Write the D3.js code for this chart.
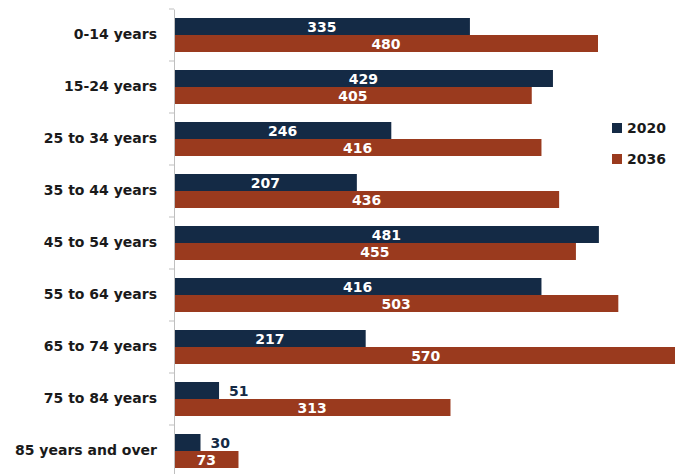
<!DOCTYPE html>
<html>
<head>
<meta charset="utf-8">
<script src="https://cdn.jsdelivr.net/npm/d3@7"></script>
<style>
  body { margin: 0; background: #fff; }
  svg text { font-family: "DejaVu Sans", sans-serif; font-weight: bold; }
</style>
</head>
<body>
<svg width="675" height="474"></svg>
<script>
var categories = ["0-14 years", "15-24 years", "25 to 34 years", "35 to 44 years",
  "45 to 54 years", "55 to 64 years", "65 to 74 years", "75 to 84 years", "85 years and over"];
var seriesNames = ["2020", "2036"];
var values2020 = [335, 429, 246, 207, 481, 416, 217, 51, 30];
var values2036 = [480, 405, 416, 436, 455, 503, 570, 313, 73];
var colors = ["#142a45", "#9a3a1e"];

var svg = d3.select("svg");

var x = d3.scaleLinear().domain([0, 600]).range([174, 704]);
var y = d3.scaleBand().domain(categories).range([9, 9 + 52 * categories.length]);
var y1 = d3.scaleBand().domain(seriesNames).range([9, 43]);

var rows = categories.map(function(c, i) {
  return {cat: c, vals: [values2020[i], values2036[i]]};
});

// bars
var g = svg.selectAll(".row").data(rows).enter().append("g")
    .attr("transform", function(d) { return "translate(0," + y(d.cat) + ")"; });

g.selectAll("rect")
    .data(function(d) { return d.vals.map(function(v, j) { return {v: v, s: seriesNames[j], j: j}; }); })
    .enter().append("rect")
    .attr("x", x(0))
    .attr("y", function(d) { return y1(d.s); })
    .attr("width", function(d) { return x(d.v) - x(0); })
    .attr("height", y1.bandwidth())
    .attr("fill", function(d) { return colors[d.j]; });

// value labels: inside when bar is wide enough, else just outside
g.selectAll(".val")
    .data(function(d) { return d.vals.map(function(v, j) { return {v: v, s: seriesNames[j], j: j}; }); })
    .enter().append("text")
    .attr("class", "val")
    .attr("font-size", 14)
    .attr("y", function(d) { return y1(d.s) + y1.bandwidth() / 2 + 5; })
    .attr("x", function(d) {
      return d.v < 60 ? x(d.v) + 10 : (x(0) + x(d.v)) / 2;
    })
    .attr("text-anchor", function(d) { return d.v < 60 ? "start" : "middle"; })
    .attr("fill", function(d) { return d.v < 60 ? "#142a45" : "#fff"; })
    .text(function(d) { return d.v; });

// axis
var axis = svg.append("g")
    .attr("transform", "translate(" + x(0) + ",0)")
    .call(d3.axisLeft(y).tickSize(0).tickPadding(17));
axis.select(".domain").attr("stroke", "#bfbfbf");
axis.selectAll("text")
    .attr("font-size", 14)
    .attr("fill", "#1a1a1a")
    .style("font-family", "DejaVu Sans, sans-serif")
    .style("font-weight", "bold");

// boundary ticks between groups
svg.selectAll(".btick").data(d3.range(categories.length + 1)).enter().append("line")
    .attr("x1", x(0) - 5).attr("x2", x(0))
    .attr("y1", function(i) { return 9 + i * y.step(); })
    .attr("y2", function(i) { return 9 + i * y.step(); })
    .attr("stroke", "#bfbfbf");

// legend
var leg = svg.selectAll(".leg").data(seriesNames).enter().append("g")
    .attr("transform", function(d, i) { return "translate(612," + (123 + i * 31) + ")"; });
leg.append("rect").attr("width", 10).attr("height", 10)
    .attr("fill", function(d, i) { return colors[i]; });
leg.append("text").attr("x", 15).attr("y", 10).attr("font-size", 14)
    .attr("fill", "#1a1a1a").text(function(d) { return d; });
</script>
</body>
</html>
